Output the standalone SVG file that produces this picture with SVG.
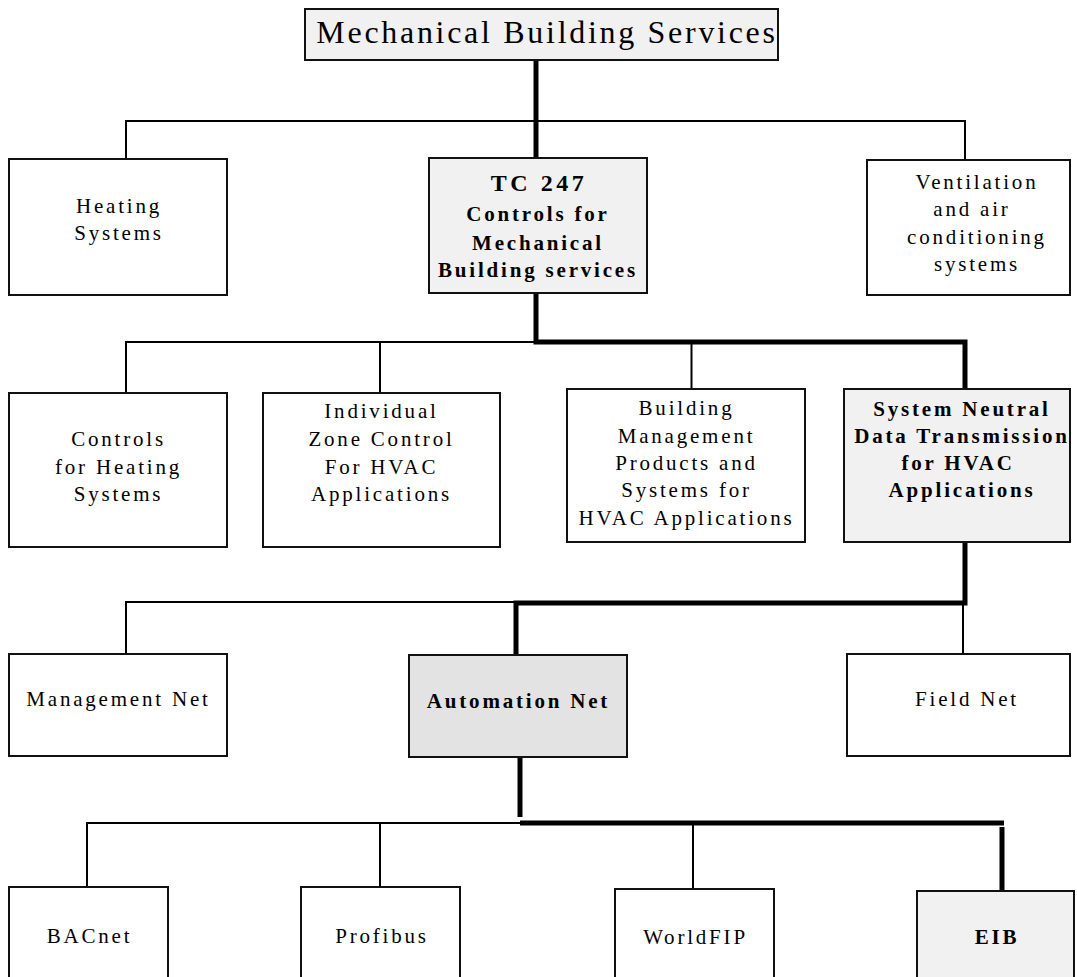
<svg xmlns="http://www.w3.org/2000/svg" width="1077" height="977" viewBox="0 0 1077 977">
  <style>
    .box { fill: #ffffff; stroke: #111111; stroke-width: 2; }
    .shade { fill: #f1f1f1; }
    .dark { fill: #e3e3e3; }
    .t { font-family: "Liberation Serif", "Times New Roman", serif; font-size: 21px; letter-spacing: 2.8px; fill: #000; text-anchor: middle; }
    .b { font-weight: bold; }
    .title { font-size: 32px; letter-spacing: 2.7px; }
    .big { font-size: 24px; letter-spacing: 3.5px; }
    .thin { fill: none; stroke: #000; stroke-width: 2; }
    .thick { fill: none; stroke: #000; stroke-width: 5; stroke-linejoin: miter; }
  </style>

  <rect width="1077" height="977" fill="#ffffff"/>

  <!-- connectors -->
  <g id="connectors">
    <!-- level 1 -->
    <path class="thick" d="M536 60 V158"/>
    <path class="thin" d="M126 159 V121 H965 V160"/>
    <!-- level 2 -->
    <path class="thin" d="M126 393 V342 H536"/>
    <path class="thin" d="M380 342 V393"/>
    <path class="thin" d="M691.5 342 V389"/>
    <path class="thick" d="M536 293 V342 H965 V389"/>
    <!-- level 3 -->
    <path class="thin" d="M126 654 V602 H516"/>
    <path class="thick" d="M965 542 V603 H516 V655"/>
    <path class="thin" d="M963 603 V654"/>
    <!-- level 4 -->
    <path class="thick" d="M520 757 V817"/>
    <path class="thin" d="M87 887 V823 H520"/>
    <path class="thick" d="M520 823 H1004"/>
    <path class="thin" d="M380 823 V887"/>
    <path class="thin" d="M693 823 V889"/>
    <path class="thick" d="M1002 827 V891"/>
  </g>

  <!-- root -->
  <g id="mechanical-building-services">
    <rect class="box shade" x="305" y="9" width="473" height="51"/>
    <text class="t title" x="547" y="43">Mechanical Building Services</text>
  </g>

  <!-- level 1 -->
  <g id="heating-systems">
    <rect class="box" x="9" y="159" width="218" height="136"/>
    <text class="t" x="119" y="213">Heating</text>
    <text class="t" x="119" y="240">Systems</text>
  </g>

  <g id="tc247">
    <rect class="box shade" x="429" y="158" width="218" height="135"/>
    <text class="t b big" x="539" y="191">TC 247</text>
    <text class="t b" x="538" y="221">Controls for</text>
    <text class="t b" x="538" y="250">Mechanical</text>
    <text class="t b" x="538" y="277">Building services</text>
  </g>

  <g id="ventilation">
    <rect class="box" x="867" y="160" width="203" height="135"/>
    <text class="t" x="977" y="189">Ventilation</text>
    <text class="t" x="972" y="216">and air</text>
    <text class="t" x="977" y="244">conditioning</text>
    <text class="t" x="977" y="271">systems</text>
  </g>

  <!-- level 2 -->
  <g id="controls-heating">
    <rect class="box" x="9" y="393" width="218" height="154"/>
    <text class="t" x="118.5" y="446">Controls</text>
    <text class="t" x="118.5" y="474">for Heating</text>
    <text class="t" x="118.5" y="501">Systems</text>
  </g>

  <g id="individual-zone-control">
    <rect class="box" x="263" y="393" width="237" height="154"/>
    <text class="t" x="381.5" y="418">Individual</text>
    <text class="t" x="381.5" y="446">Zone Control</text>
    <text class="t" x="381.5" y="474">For HVAC</text>
    <text class="t" x="381.5" y="501">Applications</text>
  </g>

  <g id="building-management">
    <rect class="box" x="567" y="389" width="238" height="153"/>
    <text class="t" x="686.5" y="415">Building</text>
    <text class="t" x="686.5" y="443">Management</text>
    <text class="t" x="686.5" y="470">Products and</text>
    <text class="t" x="686.5" y="497">Systems for</text>
    <text class="t" x="686.5" y="525">HVAC Applications</text>
  </g>

  <g id="system-neutral">
    <rect class="box shade" x="844" y="389" width="226" height="153"/>
    <text class="t b" x="962" y="416">System Neutral</text>
    <text class="t b" x="962" y="443">Data Transmission</text>
    <text class="t b" x="958" y="470">for HVAC</text>
    <text class="t b" x="962" y="497">Applications</text>
  </g>

  <!-- level 3 -->
  <g id="management-net">
    <rect class="box" x="9" y="654" width="218" height="102"/>
    <text class="t" x="118.5" y="706">Management Net</text>
  </g>

  <g id="automation-net">
    <rect class="box dark" x="409" y="655" width="218" height="102"/>
    <text class="t b" x="518.5" y="708">Automation Net</text>
  </g>

  <g id="field-net">
    <rect class="box" x="847" y="654" width="223" height="102"/>
    <text class="t" x="967" y="706">Field Net</text>
  </g>

  <!-- level 4 -->
  <g id="bacnet">
    <rect class="box" x="9" y="887" width="159" height="110"/>
    <text class="t" x="89.5" y="943">BACnet</text>
  </g>

  <g id="profibus">
    <rect class="box" x="301" y="887" width="159" height="110"/>
    <text class="t" x="382" y="943">Profibus</text>
  </g>

  <g id="worldfip">
    <rect class="box" x="615" y="889" width="159" height="110"/>
    <text class="t" x="695.5" y="944">WorldFIP</text>
  </g>

  <g id="eib">
    <rect class="box shade" x="917" y="891" width="157" height="110"/>
    <text class="t b" x="997" y="944">EIB</text>
  </g>
</svg>
